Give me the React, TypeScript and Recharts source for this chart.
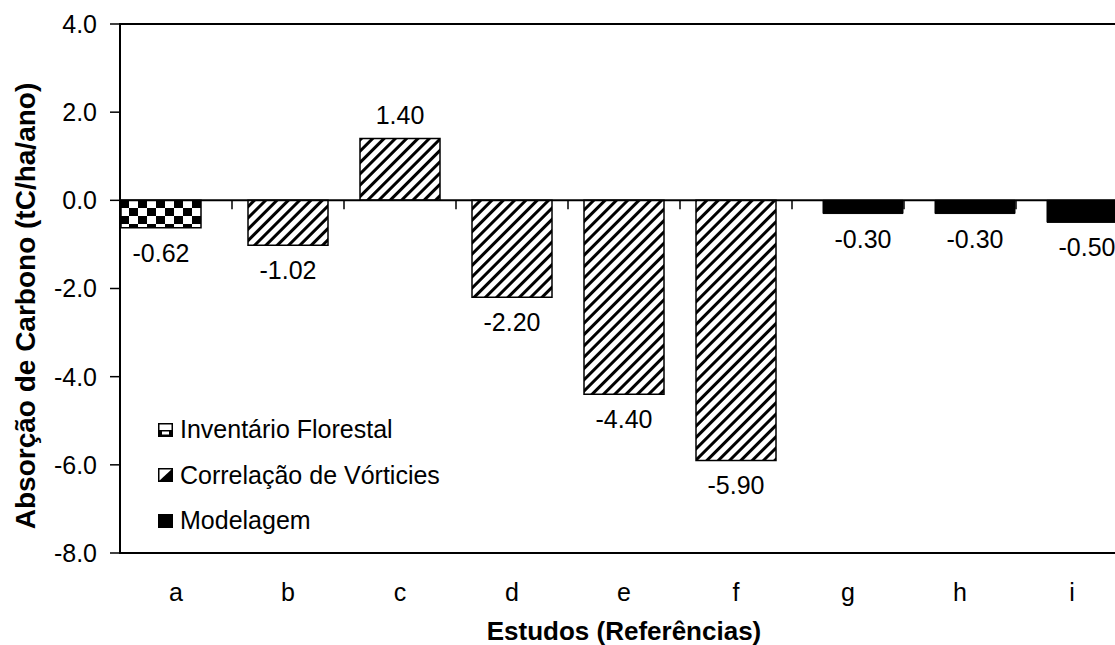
import React from 'react';
import {
  Bar,
  BarChart,
  LabelList,
  Legend,
  ReferenceArea,
  ReferenceLine,
  XAxis,
  YAxis,
} from 'recharts';

const CATEGORIES = ['a', 'b', 'c', 'd', 'e', 'f', 'g', 'h', 'i'];
const INVENTARIO = [-0.62, null, null, null, null, null, null, null, null];
const CORRELACAO = [null, -1.02, 1.4, -2.2, -4.4, -5.9, null, null, null];
const MODELAGEM = [null, null, null, null, null, null, -0.3, -0.3, -0.5];
const SERIES_NAMES = ['Inventário Florestal', 'Correlação de Vórticies', 'Modelagem'];
const Y_TICKS = [-8, -6, -4, -2, 0, 2, 4];

const data = CATEGORIES.map((cat, i) => ({
  cat,
  pos: i + 0.5,
  inv: INVENTARIO[i],
  cor: CORRELACAO[i],
  mod: MODELAGEM[i],
}));

// category boundaries (Excel draws the tick marks between categories)
const BOUNDARIES = CATEGORIES.slice(1).map((_, i) => i + 1);

const FONT = '"Liberation Sans", Arial, sans-serif';

const renderValue = (props: any) => {
  const { x, y, width, height, value } = props;
  if (value == null) return null;
  const cx = Number(x) + Number(width) / 2;
  const top = Math.min(Number(y), Number(y) + Number(height));
  const bottom = Math.max(Number(y), Number(y) + Number(height));
  const ty = value >= 0 ? top - 15 : bottom + 34;
  return (
    <text x={cx} y={ty} textAnchor="middle" fontSize={25} fontFamily={FONT} fill="#000">
      {Number(value).toFixed(2)}
    </text>
  );
};

const renderYTitle = () => (
  <text
    transform="translate(35,306) rotate(-90)"
    textAnchor="middle"
    fontSize={28}
    fontWeight="bold"
    fontFamily={FONT}
    fill="#000"
  >
    Absorção de Carbono (tC/ha/ano)
  </text>
);

const renderXTitle = () => (
  <text x={624} y={640} textAnchor="middle" fontSize={26} fontWeight="bold" fontFamily={FONT} fill="#000">
    Estudos (Referências)
  </text>
);

const LegendIcon = ({ index }: { index: number }) => {
  if (index === 0) {
    return (
      <svg width={15} height={14}>
        <rect x={0.75} y={0.75} width={13.5} height={12.5} fill="#fff" stroke="#000" strokeWidth={1.5} />
        <rect x={0.75} y={7} width={13.5} height={6.25} fill="#000" />
        <rect x={4} y={8.5} width={7} height={3} fill="#fff" />
      </svg>
    );
  }
  if (index === 1) {
    return (
      <svg width={15} height={14}>
        <rect x={0.75} y={0.75} width={13.5} height={12.5} fill="#fff" stroke="#000" strokeWidth={1.5} />
        <polygon points="14.25,0.75 14.25,13.25 0.75,13.25" fill="#000" />
      </svg>
    );
  }
  return (
    <svg width={15} height={14}>
      <rect x={0} y={0} width={15} height={14} fill="#000" />
    </svg>
  );
};

const renderLegend = () => (
  <div style={{ fontFamily: FONT, fontSize: 25, color: '#000' }}>
    {SERIES_NAMES.map((name, i) => (
      <div key={name} style={{ display: 'flex', alignItems: 'center', height: 45.5, whiteSpace: 'nowrap' }}>
        <LegendIcon index={i} />
        <span style={{ marginLeft: 7 }}>{name}</span>
      </div>
    ))}
  </div>
);

export default function App() {
  return (
    <div
      style={{
        position: 'absolute',
        left: 0,
        top: 0,
        width: 1115,
        height: 645,
        overflow: 'hidden',
        background: '#fff',
      }}
    >
      <svg width={0} height={0} style={{ position: 'absolute' }}>
        <defs>
          <pattern id="checker" patternUnits="userSpaceOnUse" x={120} y={200} width={18} height={16}>
            <rect width={18} height={16} fill="#fff" />
            <rect x={0} y={0} width={9} height={8} fill="#000" />
            <rect x={9} y={8} width={9} height={8} fill="#000" />
          </pattern>
          <pattern id="hatch" patternUnits="userSpaceOnUse" width={8} height={8} patternTransform="rotate(45)">
            <rect width={8} height={8} fill="#fff" />
            <rect x={0} y={0} width={3} height={8} fill="#000" />
          </pattern>
        </defs>
      </svg>
      <BarChart
        width={1135}
        height={645}
        data={data}
        margin={{ top: 24, right: 7, bottom: 0, left: 0 }}
        barSize={80}
        barGap={-65}
      >
        <XAxis
          xAxisId="cat"
          dataKey="cat"
          axisLine={false}
          tickLine={false}
          tickSize={0}
          tickMargin={30}
          height={92}
          interval={0}
          tick={{ fill: '#000', fontSize: 25, fontFamily: FONT }}
          label={renderXTitle}
        />
        <XAxis
          xAxisId="num"
          dataKey="pos"
          type="number"
          domain={[0, CATEGORIES.length]}
          allowDataOverflow
          hide
        />
        <YAxis
          domain={[-8, 4]}
          ticks={Y_TICKS}
          interval={0}
          width={120}
          tickSize={10}
          tickMargin={13}
          tickFormatter={(v: number) => v.toFixed(1)}
          axisLine={{ stroke: '#000', strokeWidth: 2 }}
          tickLine={{ stroke: '#000', strokeWidth: 1.5 }}
          tick={{ fill: '#000', fontSize: 25, fontFamily: FONT }}
          label={renderYTitle}
        />
        <ReferenceArea
          xAxisId="num"
          x1={0}
          x2={CATEGORIES.length}
          y1={-8}
          y2={4}
          fill="none"
          stroke="#000"
          strokeWidth={2}
          fillOpacity={0}
          ifOverflow="visible"
        />
        <Bar xAxisId="cat" dataKey="inv" name={SERIES_NAMES[0]} fill="url(#checker)" stroke="#000" strokeWidth={1.5} isAnimationActive={false}>
          <LabelList dataKey="inv" content={renderValue} />
        </Bar>
        <Bar xAxisId="cat" dataKey="cor" name={SERIES_NAMES[1]} fill="url(#hatch)" stroke="#000" strokeWidth={1.5} isAnimationActive={false}>
          <LabelList dataKey="cor" content={renderValue} />
        </Bar>
        <Bar xAxisId="cat" dataKey="mod" name={SERIES_NAMES[2]} fill="#000" stroke="#000" strokeWidth={1} isAnimationActive={false}>
          <LabelList dataKey="mod" content={renderValue} />
        </Bar>
        <ReferenceLine xAxisId="num" y={0} stroke="#000" strokeWidth={2} />
        {BOUNDARIES.map((b) => (
          <ReferenceLine
            key={b}
            xAxisId="num"
            segment={[
              { x: b, y: 0 },
              { x: b, y: -0.2 },
            ]}
            stroke="#000"
            strokeWidth={1.5}
            ifOverflow="visible"
          />
        ))}
        <Legend
          layout="vertical"
          align="center"
          verticalAlign="middle"
          wrapperStyle={{ left: 158, top: 407, width: 'auto' }}
          content={renderLegend}
        />
      </BarChart>
    </div>
  );
}
